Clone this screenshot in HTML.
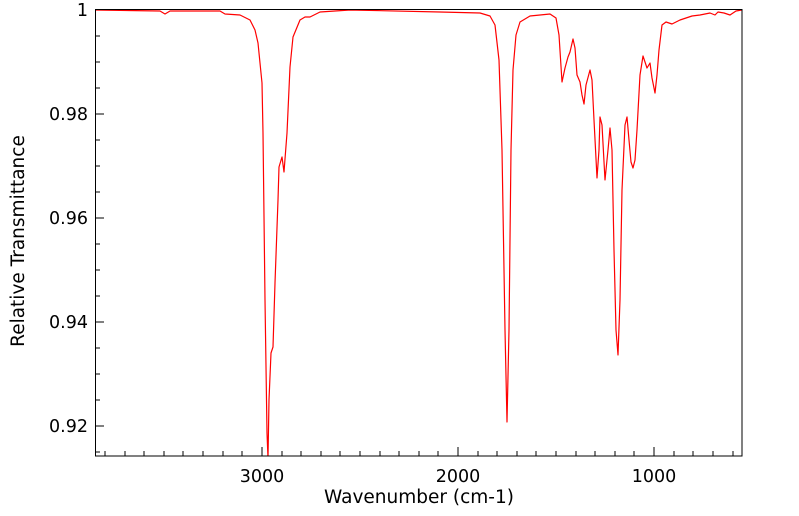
<!DOCTYPE html>
<html><head><style>
body{margin:0;background:#fff;}
svg{display:block;font-family:"DejaVu Sans","Liberation Sans",sans-serif;}
</style></head><body>
<svg width="799" height="516" viewBox="0 0 799 516">
<defs><clipPath id="c"><rect x="95" y="9" width="647" height="447"/></clipPath></defs>
<g stroke="#000" stroke-width="1">
<path d="M262,456v-9 M458,456v-9 M654,456v-9
M105,456v-5 M125,456v-5 M144,456v-5 M164,456v-5 M183,456v-5 M203,456v-5 M223,456v-5 M242,456v-5
M282,456v-5 M301,456v-5 M321,456v-5 M340,456v-5 M360,456v-5 M380,456v-5 M399,456v-5 M419,456v-5 M438,456v-5
M478,456v-5 M497,456v-5 M517,456v-5 M536,456v-5 M556,456v-5 M576,456v-5 M595,456v-5 M615,456v-5 M634,456v-5
M674,456v-5 M693,456v-5 M713,456v-5 M733,456v-5"/>
<path d="M95,10h9 M95,114h9 M95,218h9 M95,322h9 M95,426h9
M95,36h5 M95,62h5 M95,88h5 M95,140h5 M95,166h5 M95,192h5 M95,244h5 M95,270h5 M95,296h5 M95,348h5 M95,374h5 M95,400h5 M95,452h5"/>
</g>
<polyline clip-path="url(#c)" fill="none" stroke="#ff0000" stroke-width="1.2" stroke-linejoin="round" points="
95,10 160,11 165,14 170,11 220,11 225,14 240,15 250,20 255,30 258,43 262,83 263,133 265,300 267,433 268,458 269,400 271,353 273,347 275,283 278,200 279,167 282,157 284,172 287,133 290,67 293,37 300,20 305,17 310,17 320,12 350,10 440,12 480,13 490,16 495,25 499,60 502,150 505,330 507,422 509,330 511,150 513,70 516,35 520,22 530,16 550,14 556,18 559,35 562,82 565,68 568,57 570,52 573,39 575,48 577,75 580,82 582,95 584,104 586,85 590,70 592,80 594,120 597,178 599,150 600,117 602,125 605,180 608,150 610,128 612,150 614,250 616,330 618,355 620,300 622,190 625,125 627,117 629,140 631,162 633,168 635,160 637,130 640,75 643,56 645,62 647,68 650,63 652,78 655,93 657,75 659,50 662,25 666,22 672,24 676,22 680,20 686,18 692,16 700,15 710,13 715,15 718,12 724,13 730,15 736,11 742,10"/>
<rect x="95.5" y="9.5" width="646.5" height="446.5" fill="none" stroke="#000" stroke-width="1"/>
<g font-size="17.5" fill="#000">
<text x="262" y="482" text-anchor="middle">3000</text>
<text x="458" y="482" text-anchor="middle">2000</text>
<text x="654" y="482" text-anchor="middle">1000</text>
<text x="88" y="16" text-anchor="end">1</text>
<text x="88" y="120" text-anchor="end">0.98</text>
<text x="88" y="224" text-anchor="end">0.96</text>
<text x="88" y="328" text-anchor="end">0.94</text>
<text x="88" y="432" text-anchor="end">0.92</text>
</g>
<g font-size="18.5" fill="#000">
<text x="419" y="503" text-anchor="middle">Wavenumber (cm-1)</text>
<text transform="translate(24,241) rotate(-90)" text-anchor="middle">Relative Transmittance</text>
</g>
</svg>
</body></html>
